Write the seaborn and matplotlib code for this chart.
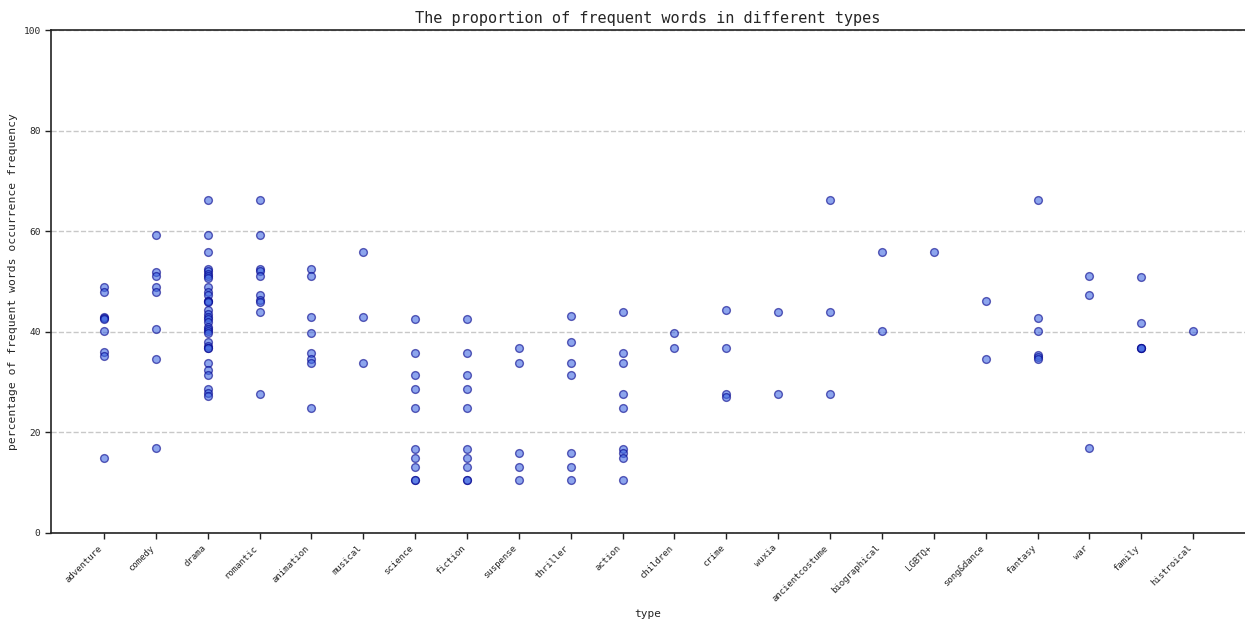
import matplotlib
matplotlib.use("Agg")
import matplotlib.pyplot as plt
import seaborn as sns
import pandas as pd

categories = ["adventure", "comedy", "drama", "romantic", "animation", "musical",
              "science", "fiction", "suspense", "thriller", "action", "children",
              "crime", "wuxia", "ancientcostume", "biographical", "LGBTQ+",
              "song&dance", "fantasy", "war", "family", "histroical"]

adventure = [49.0, 48.0, 43.0, 42.8, 42.5, 40.2, 35.9, 35.2, 15.0]
comedy = [59.3, 51.9, 51.0, 49.0, 47.9, 40.6, 34.5, 16.9]
drama = [66.3, 59.3, 55.9, 52.5, 52.0, 51.5, 51.0, 50.6, 49.0, 47.9, 47.4, 46.2,
         46.2, 46.0, 44.3, 43.5, 43.0, 42.6, 42.0, 41.0, 40.5, 40.2, 39.7, 38.0,
         37.2, 36.7, 36.7, 33.8, 32.4, 31.5, 28.6, 27.9, 27.3]
romantic = [66.3, 59.3, 52.5, 52.0, 51.0, 47.4, 46.3, 46.0, 44.0, 27.7]
animation = [52.5, 51.0, 42.9, 39.8, 35.8, 34.5, 33.8, 24.9]
musical = [55.9, 42.9, 33.8]
science = [42.6, 35.8, 31.5, 28.6, 24.9, 16.7, 15.0, 13.2, 10.6, 10.6]
fiction = [42.6, 35.8, 31.5, 28.6, 24.9, 16.7, 15.0, 13.2, 10.6, 10.6]
suspense = [36.7, 33.7, 16.0, 13.2, 10.6]
thriller = [43.1, 37.9, 33.7, 31.4, 16.0, 13.2, 10.6]
action = [44.0, 35.8, 33.7, 27.6, 24.9, 16.7, 16.0, 15.0, 10.6]
children = [39.8, 36.7]
crime = [44.3, 36.7, 27.6, 27.1]
wuxia = [44.0, 27.6]
ancientcostume = [66.3, 44.0, 27.6]
biographical = [55.9, 40.2]
lgbtq = [55.9]
songdance = [46.2, 34.5]
fantasy = [66.3, 42.8, 40.2, 35.3, 34.9, 34.5]
war = [51.0, 47.3, 16.9]
family = [50.8, 41.7, 36.8, 36.8, 36.8]
histroical = [40.2]

series = [adventure, comedy, drama, romantic, animation, musical, science, fiction,
          suspense, thriller, action, children, crime, wuxia, ancientcostume,
          biographical, lgbtq, songdance, fantasy, war, family, histroical]

rows = []
for cat, vals in zip(categories, series):
    for v in vals:
        rows.append({"type": cat, "pct": v})
df = pd.DataFrame(rows)

sns.set_style("white")
plt.rcParams['font.family'] = ['DejaVu Sans Mono', 'DejaVu Sans']

fig = plt.figure(figsize=(12.45, 6.21), dpi=100)
ax = fig.add_axes([51/1245, 88/621, 1194/1245, 503/621])

sns.stripplot(data=df, x="type", y="pct", order=categories, jitter=False,
              color="royalblue", edgecolor="darkblue", linewidth=1,
              alpha=0.6, size=5.6, ax=ax, zorder=3)

ax.set_xlim(-1.02, 22.0)
ax.set_ylim(0, 100)
ax.set_yticks([0, 20, 40, 60, 80, 100])
ax.yaxis.grid(True, linestyle="--", color="#c8c8c8", linewidth=1)
ax.xaxis.grid(False)
ax.set_axisbelow(True)

for side in ["left", "bottom", "top"]:
    ax.spines[side].set_visible(True)
    ax.spines[side].set_color("#222222")
    ax.spines[side].set_linewidth(1.2)
ax.spines["right"].set_visible(False)

ax.tick_params(axis="both", which="both", direction="out", length=4, width=1,
               color="#222222", bottom=True, left=True)
ax.tick_params(axis="x", labelsize=6.5)
ax.tick_params(axis="y", labelsize=6.8)
plt.setp(ax.get_xticklabels(), rotation=45, ha="right")

ax.set_title("The proportion of frequent words in different types", fontsize=11, pad=5)
ax.set_xlabel("type", fontsize=8)
ax.set_ylabel("percentage of frequent words occurrence frequency", fontsize=8.2)

fig.savefig("out.png", dpi=100)
